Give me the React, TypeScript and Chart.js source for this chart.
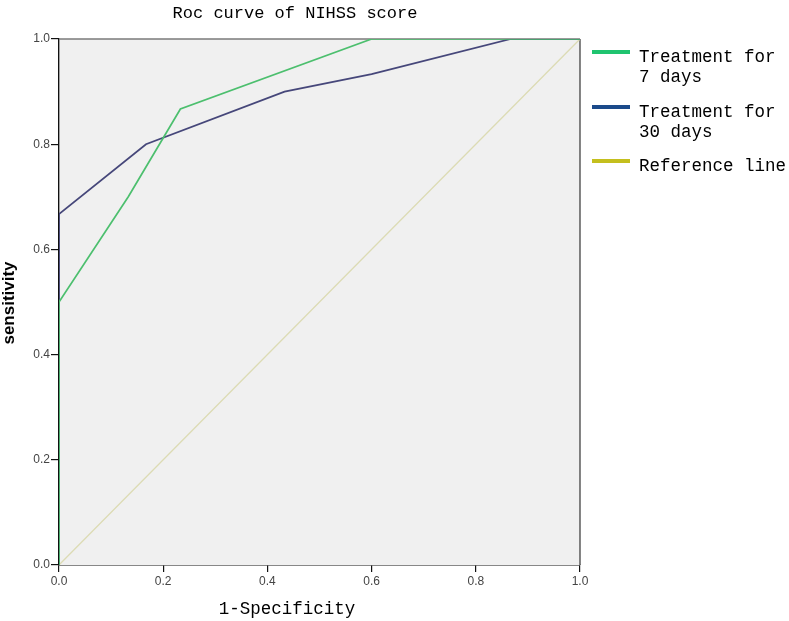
import React, { useEffect, useRef } from "react";
import { Chart, registerables } from "chart.js";

Chart.register(...registerables);

// ---- data ----
const fprTreat7 = [0, 0, 0.133, 0.233, 0.6, 1];
const tprTreat7 = [0, 0.5, 0.7, 0.867, 1, 1];
const fprTreat30 = [0, 0, 0.167, 0.433, 0.6, 0.867, 1];
const tprTreat30 = [0, 0.667, 0.8, 0.9, 0.933, 1, 1];
const refX = [0, 1];
const refY = [0, 1];
const axisTicks = [0, 0.2, 0.4, 0.6, 0.8, 1.0];
const seriesNames = [["Treatment for", "7 days"], ["Treatment for", "30 days"], ["Reference line"]];
const chartTitle = "Roc curve of NIHSS score";
const xTitle = "1-Specificity";
const yTitle = "sensitivity";

const lineColors = ["#4cbf6e", "#46477a", "#dcdbb4"];
const legendColors = ["#1fc46f", "#1b4a8a", "#c4bf1e"];

const toPoints = (xs: number[], ys: number[]) => xs.map((x, i) => ({ x, y: ys[i] }));

const MONO = '"Liberation Mono", "DejaVu Sans Mono", monospace';
const SANS = '"Liberation Sans", Arial, sans-serif';

const decorPlugin = {
  id: "decor",
  beforeDatasetsDraw(chart: any) {
    const { ctx, chartArea: a } = chart;
    ctx.save();
    ctx.fillStyle = "#f0f0f0";
    ctx.fillRect(a.left + 1, a.top, a.right - a.left - 1, a.bottom - a.top);
    ctx.lineWidth = 1.5;
    ctx.strokeStyle = "#7a7a7a";
    ctx.beginPath();
    ctx.moveTo(a.left, a.top);
    ctx.lineTo(a.right, a.top);
    ctx.stroke();
    ctx.strokeStyle = "#333333";
    ctx.lineWidth = 1.2;
    ctx.beginPath();
    ctx.moveTo(a.right, a.top);
    ctx.lineTo(a.right, a.bottom);
    ctx.stroke();
    ctx.restore();
  },
  afterDraw(chart: any) {
    const { ctx, chartArea: a } = chart;
    ctx.save();
    ctx.fillStyle = "#000000";
    ctx.textBaseline = "middle";
    // title
    ctx.font = `17px ${MONO}`;
    ctx.textAlign = "center";
    ctx.fillText(chartTitle, 295, 13);
    // x title
    ctx.font = `17.5px ${MONO}`;
    ctx.fillText(xTitle, 287, 609);
    // y title
    ctx.save();
    ctx.translate(9, 303);
    ctx.rotate(-Math.PI / 2);
    ctx.font = `bold 17px ${SANS}`;
    ctx.fillText(yTitle, 0, 0);
    ctx.restore();
    // legend
    const markerX0 = a.right + 12;
    const markerX1 = a.right + 50;
    const textX = a.right + 59;
    const rowsY = [52, 107, 161];
    ctx.textAlign = "left";
    ctx.font = `17.5px ${MONO}`;
    seriesNames.forEach((lines, i) => {
      const y = rowsY[i];
      ctx.strokeStyle = legendColors[i];
      ctx.lineWidth = 4;
      ctx.beginPath();
      ctx.moveTo(markerX0, y);
      ctx.lineTo(markerX1, y);
      ctx.stroke();
      lines.forEach((t, j) => {
        ctx.fillText(t, textX, y + 5 + j * 20);
      });
    });
    ctx.restore();
  },
};

export default function App() {
  const ref = useRef<HTMLCanvasElement | null>(null);
  useEffect(() => {
    if (!ref.current) return;
    const tickFont = { family: SANS, size: 12 };
    const chart = new Chart(ref.current, {
      type: "line",
      data: {
        datasets: [
          {
            label: seriesNames[0].join(" "),
            data: toPoints(fprTreat7, tprTreat7),
            borderColor: lineColors[0],
            borderWidth: 1.7,
            pointRadius: 0,
            tension: 0,
          },
          {
            label: seriesNames[1].join(" "),
            data: toPoints(fprTreat30, tprTreat30),
            borderColor: lineColors[1],
            borderWidth: 1.8,
            pointRadius: 0,
            tension: 0,
          },
          {
            label: seriesNames[2][0],
            data: toPoints(refX, refY),
            borderColor: lineColors[2],
            borderWidth: 1.3,
            pointRadius: 0,
            tension: 0,
          },
        ],
      },
      options: {
        animation: false,
        responsive: false,
        maintainAspectRatio: false,
        layout: { padding: { top: 39, right: 209, left: 0, bottom: 0 } },
        plugins: { legend: { display: false }, title: { display: false }, tooltip: { enabled: false } },
        scales: {
          x: {
            type: "linear",
            min: 0,
            max: 1,
            afterBuildTicks: (s: any) => {
              s.ticks = axisTicks.map((v) => ({ value: v }));
            },
            afterFit: (s: any) => {
              s.height = 56;
            },
            ticks: {
              callback: (v: any) => Number(v).toFixed(1),
              font: tickFont,
              color: "#444444",
              maxRotation: 0,
              autoSkip: false,
              padding: 2,
            },
            grid: { drawOnChartArea: false, tickLength: 7, color: "#111111", lineWidth: 1.2 },
            border: { color: "#111111", width: 1.4 },
          },
          y: {
            type: "linear",
            min: 0,
            max: 1,
            afterBuildTicks: (s: any) => {
              s.ticks = axisTicks.map((v) => ({ value: v }));
            },
            afterFit: (s: any) => {
              s.width = 59;
            },
            ticks: {
              callback: (v: any) => Number(v).toFixed(1),
              font: tickFont,
              color: "#444444",
              autoSkip: false,
              padding: 1,
            },
            grid: { drawOnChartArea: false, tickLength: 8, color: "#111111", lineWidth: 1.2 },
            border: { color: "#111111", width: 1.4 },
          },
        },
      },
      plugins: [decorPlugin],
    } as any);
    return () => chart.destroy();
  }, []);
  return (
    <div style={{ position: "absolute", left: 0, top: 0, width: 789, height: 621, background: "#fff" }}>
      <canvas ref={ref} width={789} height={621} style={{ width: 789, height: 621, display: "block" }} />
    </div>
  );
}
